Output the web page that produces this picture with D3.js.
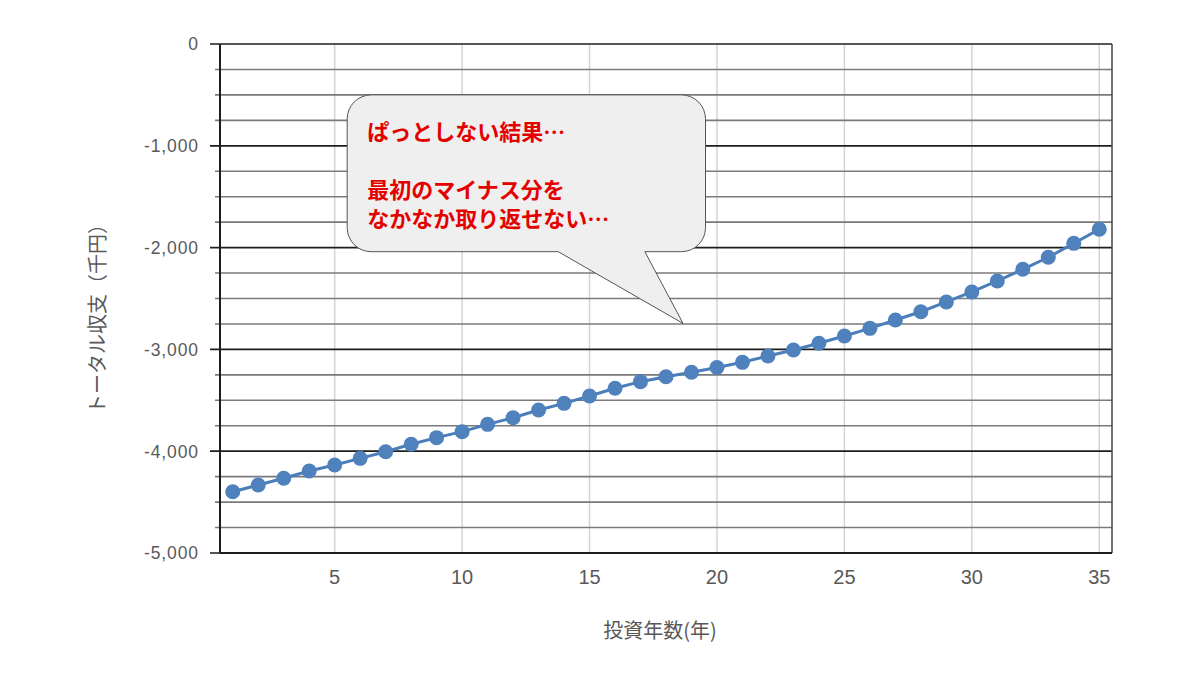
<!DOCTYPE html>
<html>
<head>
<meta charset="utf-8">
<script src="https://cdn.jsdelivr.net/npm/d3@7"></script>
<style>
  body { margin: 0; background: #fff; }
  .tick-label { font-family: "Liberation Sans", Arial, sans-serif; fill: #595959; }
  .axis-title { font-family: "Noto Sans CJK JP", sans-serif; fill: #595959; }
  .callout-text { font-family: "Noto Sans CJK JP", sans-serif; font-weight: bold; fill: #e50000; }
</style>
</head>
<body>
<div id="chart"></div>
<script>
// 投資年数 (years) and total balance (thousand yen)
const years = d3.range(1, 36);
const totals = [
  -4398, -4332, -4266, -4194, -4136, -4070, -4005, -3932, -3867, -3808,
  -3736, -3671, -3595, -3530, -3458, -3382, -3317, -3268, -3225, -3178,
  -3127, -3065, -3006, -2940, -2868, -2793, -2711, -2630, -2534, -2436,
  -2328, -2213, -2095, -1958, -1820
];

const yMajorTicks = [0, -1000, -2000, -3000, -4000, -5000];
const yMinorTicks = d3.range(0, -5001, -250);
const xTicks = [5, 10, 15, 20, 25, 30, 35];

const xTitle = '投資年数(年)';
const yTitle = 'トータル収支（千円）';
const calloutLines = ['ぱっとしない結果…', '', '最初のマイナス分を', 'なかなか取り返せない…'];

// callout anchored in data units: box corners, tail base and tip
const callout = {x0: 5.49, x1: 19.55, y0: -500, y1: -2040, base0: 13.77, base1: 17.17, tipX: 18.67, tipY: -2745};

const width = 1200;
const height = 675;
const plot = {left: 220, top: 44, right: 1112, bottom: 553};

const x = d3.scaleLinear().domain([0.5, 35.5]).range([plot.left, plot.right]);
const y = d3.scaleLinear().domain([-5000, 0]).range([plot.bottom, plot.top]);

const fmt = d => d3.format(',')(d).replace('−', '-');

const svg = d3.select('#chart')
  .append('svg')
  .attr('width', width)
  .attr('height', height);

// vertical gridlines
svg.append('g')
  .selectAll('line')
  .data(xTicks)
  .enter()
  .append('line')
  .attr('x1', d => x(d)).attr('x2', d => x(d))
  .attr('y1', plot.top).attr('y2', plot.bottom)
  .attr('stroke', '#d4d4d4')
  .attr('stroke-width', 1.5);

// minor horizontal gridlines
svg.append('g')
  .selectAll('line')
  .data(yMinorTicks.filter(d => d % 1000 !== 0))
  .enter()
  .append('line')
  .attr('x1', plot.left - 5).attr('x2', plot.right)
  .attr('y1', d => y(d)).attr('y2', d => y(d))
  .attr('stroke', '#7a7a7a')
  .attr('stroke-width', 1.6);

// major horizontal gridlines
svg.append('g')
  .selectAll('line')
  .data(yMajorTicks)
  .enter()
  .append('line')
  .attr('x1', plot.left - 10).attr('x2', plot.right)
  .attr('y1', d => y(d)).attr('y2', d => y(d))
  .attr('stroke', '#1e1e1e')
  .attr('stroke-width', 1.7);

// frame: left axis, bottom axis, right border
svg.append('line')
  .attr('x1', plot.left).attr('x2', plot.left)
  .attr('y1', plot.top).attr('y2', plot.bottom)
  .attr('stroke', '#1e1e1e').attr('stroke-width', 2);
svg.append('line')
  .attr('x1', plot.right).attr('x2', plot.right)
  .attr('y1', plot.top).attr('y2', plot.bottom)
  .attr('stroke', '#444').attr('stroke-width', 1.5);
svg.append('line')
  .attr('x1', plot.left).attr('x2', plot.right)
  .attr('y1', plot.bottom).attr('y2', plot.bottom)
  .attr('stroke', '#1e1e1e').attr('stroke-width', 2);

// tick labels
svg.append('g')
  .selectAll('text')
  .data(yMajorTicks)
  .enter()
  .append('text')
  .attr('class', 'tick-label')
  .attr('x', plot.left - 21)
  .attr('y', d => y(d))
  .attr('dy', '0.36em')
  .attr('text-anchor', 'end')
  .attr('font-size', 17.5)
  .attr('letter-spacing', 0.9)
  .text(fmt);

svg.append('g')
  .selectAll('text')
  .data(xTicks)
  .enter()
  .append('text')
  .attr('class', 'tick-label')
  .attr('x', d => x(d))
  .attr('y', plot.bottom + 31)
  .attr('text-anchor', 'middle')
  .attr('font-size', 20)
  .text(d => d);

// axis titles
svg.append('text')
  .attr('class', 'axis-title')
  .attr('x', (plot.left + plot.right) / 2 - 6)
  .attr('y', 638)
  .attr('text-anchor', 'middle')
  .attr('font-size', 20)
  .text(xTitle);

svg.append('text')
  .attr('class', 'axis-title')
  .attr('transform', `translate(105, 314) rotate(-90)`)
  .attr('text-anchor', 'middle')
  .attr('font-size', 20)
  .text(yTitle);

// the series
const line = d3.line()
  .x((d, i) => x(years[i]))
  .y(d => y(d));

svg.append('path')
  .datum(totals)
  .attr('d', line)
  .attr('fill', 'none')
  .attr('stroke', '#4a7ebb')
  .attr('stroke-width', 3);

svg.append('g')
  .selectAll('circle')
  .data(totals)
  .enter()
  .append('circle')
  .attr('cx', (d, i) => x(years[i]))
  .attr('cy', d => y(d))
  .attr('r', 7.5)
  .attr('fill', '#4f81bd');

// speech bubble: rounded box with a tail, drawn as one path
function bubblePath(c) {
  const l = x(c.x0), r = x(c.x1), t = y(c.y0), b = y(c.y1);
  const rad = 24;
  const p = d3.path();
  p.moveTo(l + rad, t);
  p.lineTo(r - rad, t);
  p.arcTo(r, t, r, t + rad, rad);
  p.lineTo(r, b - rad);
  p.arcTo(r, b, r - rad, b, rad);
  p.lineTo(x(c.base1), b);
  p.lineTo(x(c.tipX), y(c.tipY));
  p.lineTo(x(c.base0), b);
  p.lineTo(l + rad, b);
  p.arcTo(l, b, l, b - rad, rad);
  p.lineTo(l, t + rad);
  p.arcTo(l, t, l + rad, t, rad);
  p.closePath();
  return p.toString();
}

svg.append('path')
  .attr('d', bubblePath(callout))
  .attr('fill', '#efefef')
  .attr('stroke', '#555')
  .attr('stroke-width', 1);

svg.append('g')
  .selectAll('text')
  .data(calloutLines)
  .enter()
  .append('text')
  .attr('class', 'callout-text')
  .attr('x', x(callout.x0) + 20)
  .attr('y', (d, i) => y(callout.y0) + 45 + i * 29)
  .attr('font-size', 22)
  .text(d => d);
</script>
</body>
</html>
